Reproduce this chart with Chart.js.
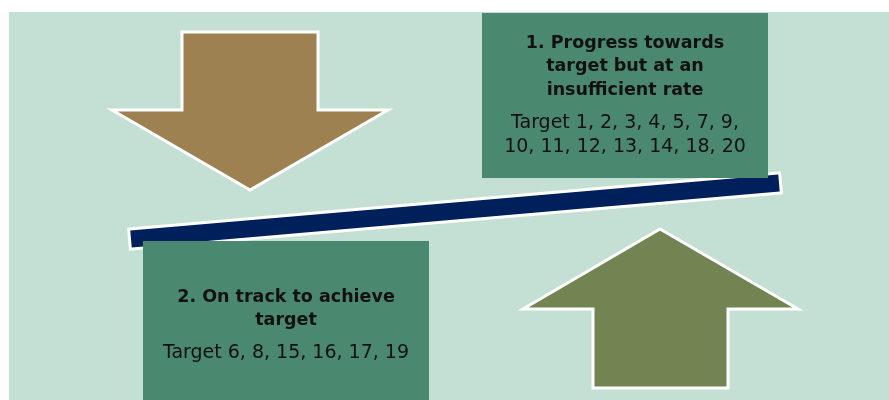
<!DOCTYPE html>
<html>
<head>
<meta charset="utf-8">
<script src="https://cdn.jsdelivr.net/npm/chart.js@4"></script>
<style>
  html, body { margin: 0; padding: 0; background: #ffffff; }
  #wrap { width: 889px; height: 400px; }
</style>
</head>
<body>
<div id="wrap"><canvas id="diagram" width="889" height="400"></canvas></div>
<script>
// Categorias do diagrama
const categoryTitles = [
  ['1. Progress towards', 'target but at an', 'insufficient rate'],
  ['2. On track to achieve', 'target']
];
// Metas em cada categoria
const insufficientTargets = [1, 2, 3, 4, 5, 7, 9, 10, 11, 12, 13, 14, 18, 20];
const onTrackTargets = [6, 8, 15, 16, 17, 19];
// Quebra de linha das listas (itens por linha)
const lineBreaks = [[7, 7], [6]];

// Cores
const colors = {
  background: '#c4dfd4',
  downArrow: '#9e8150',
  upArrow: '#718451',
  box: '#4b8870',
  beam: '#00205b',
  outline: '#ffffff',
  text: '#111111'
};

function targetLines(list, breaks) {
  const lines = [];
  let i = 0;
  breaks.forEach((n, k) => {
    const part = list.slice(i, i + n).join(', ');
    lines.push((k === 0 ? 'Target ' : '') + part + (i + n < list.length ? ',' : ''));
    i += n;
  });
  return lines;
}

const boxes = [
  { x0: 482, y0: 13, x1: 768, y1: 178, titleY: 43, bodyY: 123, title: categoryTitles[0],
    body: targetLines(insufficientTargets, lineBreaks[0]) },
  { x0: 143, y0: 241, x1: 429, y1: 400, titleY: 297, bodyY: 353, title: categoryTitles[1],
    body: targetLines(onTrackTargets, lineBreaks[1]) }
];

const downArrow = [[182, 32], [318, 32], [318, 110], [388, 110], [250, 190], [112, 110], [182, 110]];
const upArrow = [[660, 229], [798, 309], [728, 309], [728, 388], [593, 388], [593, 309], [523, 309]];
const beam = { from: [131, 239], to: [779, 183], width: 17 };

const diagramPlugin = {
  id: 'diagram',
  beforeDatasetsDraw(chart) {
    const { ctx, scales: { x, y } } = chart;
    const px = v => x.getPixelForValue(v);
    const py = v => y.getPixelForValue(v);

    ctx.save();
    // fundo
    ctx.fillStyle = colors.background;
    ctx.fillRect(px(9), py(12), px(889) - px(9), py(400) - py(12));

    // setas
    const poly = (pts, fill) => {
      ctx.beginPath();
      pts.forEach((p, i) => i ? ctx.lineTo(px(p[0]), py(p[1])) : ctx.moveTo(px(p[0]), py(p[1])));
      ctx.closePath();
      ctx.fillStyle = fill;
      ctx.fill();
      ctx.lineWidth = 3;
      ctx.strokeStyle = colors.outline;
      ctx.lineJoin = 'miter';
      ctx.stroke();
    };
    poly(downArrow, colors.downArrow);
    poly(upArrow, colors.upArrow);

    // barra inclinada
    const ax = px(beam.from[0]), ay = py(beam.from[1]);
    const bx = px(beam.to[0]), by = py(beam.to[1]);
    const ang = Math.atan2(by - ay, bx - ax);
    const len = Math.hypot(bx - ax, by - ay);
    ctx.translate(ax, ay);
    ctx.rotate(ang);
    ctx.lineWidth = 6;
    ctx.strokeStyle = colors.outline;
    ctx.strokeRect(0, -beam.width / 2, len, beam.width);
    ctx.fillStyle = colors.beam;
    ctx.fillRect(0, -beam.width / 2, len, beam.width);
    ctx.setTransform(1, 0, 0, 1, 0, 0);

    // caixas
    boxes.forEach(b => {
      ctx.fillStyle = colors.box;
      ctx.fillRect(px(b.x0), py(b.y0), px(b.x1) - px(b.x0), py(b.y1) - py(b.y0));
      const cx = px((b.x0 + b.x1) / 2);
      ctx.fillStyle = colors.text;
      ctx.textAlign = 'center';
      ctx.textBaseline = 'middle';
      ctx.font = 'bold 17.5px "DejaVu Sans"';
      b.title.forEach((t, i) => ctx.fillText(t, cx, py(b.titleY) + i * 23.5));
      ctx.font = '19px "DejaVu Sans"';
      b.body.forEach((t, i) => ctx.fillText(t, cx, py(b.bodyY) + i * 24));
    });
    ctx.restore();
  }
};

new Chart(document.getElementById('diagram'), {
  type: 'scatter',
  data: { datasets: [{ data: [], pointRadius: 0 }] },
  options: {
    responsive: false,
    animation: false,
    layout: { padding: 0 },
    plugins: { legend: { display: false }, tooltip: { enabled: false } },
    scales: {
      x: { type: 'linear', min: 0, max: 889, display: false },
      y: { type: 'linear', min: 0, max: 400, reverse: true, display: false }
    }
  },
  plugins: [diagramPlugin]
});
</script>
</body>
</html>
